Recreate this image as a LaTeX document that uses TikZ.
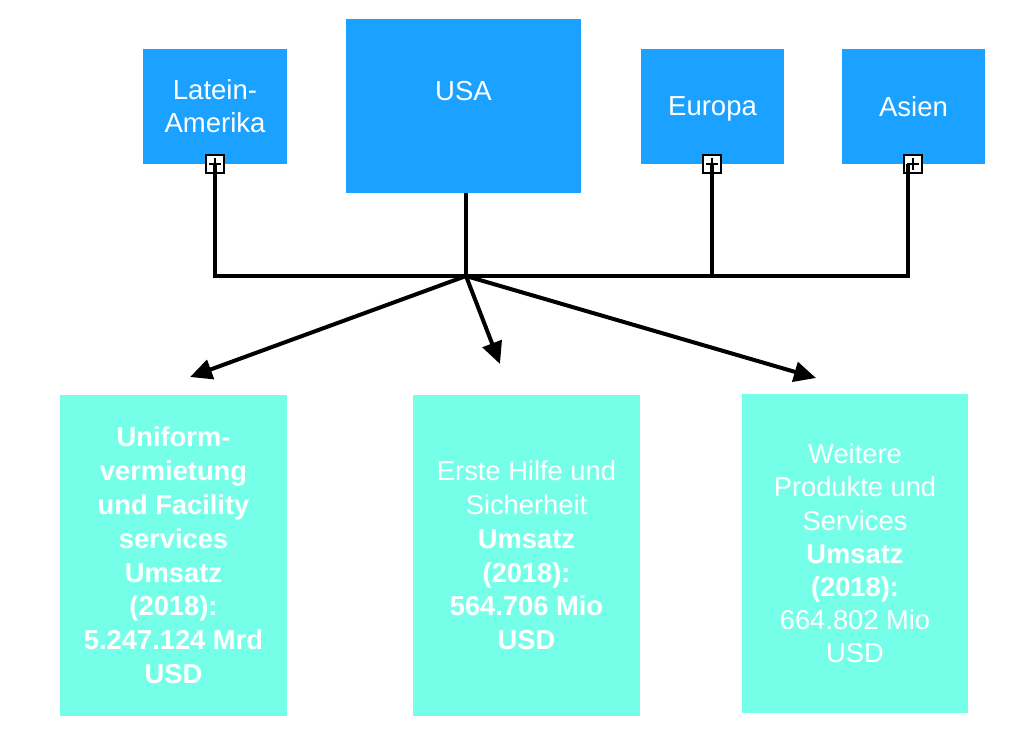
\documentclass[tikz,border=0pt]{standalone}
\usepackage{fontspec}
\setmainfont{Liberation Sans}
\usetikzlibrary{arrows.meta}
\definecolor{topblue}{RGB}{27,161,255}
\definecolor{aqua}{RGB}{118,255,232}
\begin{document}
\begin{tikzpicture}[x=1pt,y=-1pt,
  topbox/.style={fill=topblue, draw=none, text=white, align=center, font=\fontsize{27.5}{33}\selectfont, inner sep=0pt},
  toplabel/.style={text=white, align=center, font=\fontsize{27.5}{33}\selectfont, inner sep=0pt},
  botbox/.style={fill=aqua, draw=none, text=white, align=center, font=\fontsize{27.3}{33.8}\selectfont, inner sep=0pt},
  plusbox/.style={draw=black, fill=white, line width=1.5pt, minimum size=18pt, inner sep=0pt,
    path picture={\draw[line width=1.3pt] ([xshift=-6pt]path picture bounding box.center) -- ([xshift=6pt]path picture bounding box.center);
                  \draw[line width=1.3pt] ([yshift=-6pt]path picture bounding box.center) -- ([yshift=6pt]path picture bounding box.center);}},
  conn/.style={line width=4pt, black},
  arr/.style={conn, -{Triangle[length=22pt,width=20pt]}}]
\useasboundingbox (0,0) rectangle (1024,745);

% top boxes
\node[topbox, minimum width=144pt, minimum height=115pt] (la) at (215,106.5) {Latein-\\Amerika};
\node[topbox, minimum width=235pt, minimum height=174pt] (usa) at (463.5,106) {};
\node[toplabel] (usalabel) at (463.5,91) {USA};
\node[topbox, minimum width=143pt, minimum height=115pt, text depth=0pt] (eu) at (712.5,106.5) {Europa};
\node[topbox, minimum width=143pt, minimum height=115pt] (as) at (913.5,106.5) {Asien};

% plus boxes
\node[plusbox] (pla) at (215,164) {};
\node[plusbox] (peu) at (712,164) {};
\node[plusbox] (pas) at (913,164) {};

% junctions and arrow tips
\coordinate (hub) at (466,276);
\coordinate (tipA) at (190,377);
\coordinate (tipB) at (500,364);
\coordinate (tipC) at (816,378);

% connectors
\draw[conn, line join=miter] (pla.center) |- (hub) -| ([xshift=-5pt]pas.center);
\draw[conn] (peu.center) -- (peu.center |- hub);
\draw[conn] (usa.south -| hub) -- (hub);
\draw[arr] (hub) -- (tipA);
\draw[arr] (hub) -- (tipB);
\draw[arr] (hub) -- (tipC);

% bottom boxes
\node[botbox, minimum width=227pt, minimum height=321pt] (uni) at (173.5,555.5)
  {\textbf{Uniform-}\\\textbf{vermietung}\\\textbf{und Facility}\\\textbf{services}\\\textbf{Umsatz}\\\textbf{(2018):}\\\textbf{5.247.124 Mrd}\\\textbf{USD}};
\node[botbox, minimum width=227pt, minimum height=321pt] (ehs) at (526.5,555.5)
  {Erste Hilfe und\\Sicherheit\\\textbf{Umsatz}\\\textbf{(2018):}\\\textbf{564.706 Mio}\\\textbf{USD}};
\node[botbox, minimum width=226pt, minimum height=319pt, font=\fontsize{27.3}{33.2}\selectfont] (wps) at (855,553.5)
  {Weitere\\Produkte und\\Services\\\textbf{Umsatz}\\\textbf{(2018):}\\664.802 Mio\\USD};
\end{tikzpicture}
\end{document}
